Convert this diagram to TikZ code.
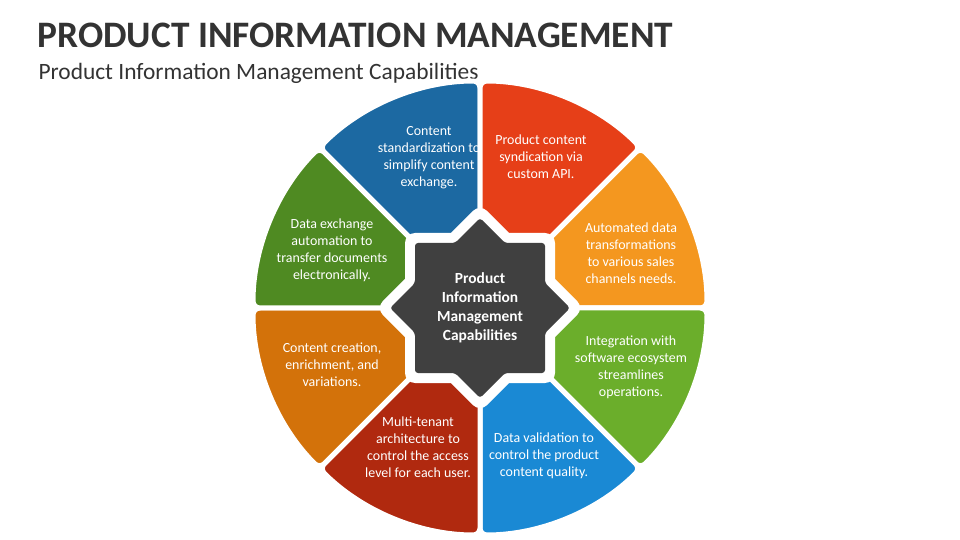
\documentclass[tikz,border=0pt]{standalone}
\usepackage{fontspec}
\setmainfont{Carlito}
\definecolor{cBlue}{HTML}{1C69A2}
\definecolor{cRed}{HTML}{E63F18}
\definecolor{cOrange}{HTML}{F4971F}
\definecolor{cGreenR}{HTML}{6BAE2B}
\definecolor{cLBlue}{HTML}{1A89D4}
\definecolor{cDRed}{HTML}{B0290F}
\definecolor{cDOrange}{HTML}{D3720A}
\definecolor{cGreenL}{HTML}{4F8A22}
\definecolor{cStar}{HTML}{404040}
\definecolor{cTitle}{HTML}{333333}
\begin{document}
\begin{tikzpicture}[x=1bp,y=-1bp,
  seg/.style={fill=#1,draw=white,line width=5bp,rounded corners=7bp},
  segtext/.style={text=white,align=center,font=\fontsize{14}{17}\selectfont},
  ]
\useasboundingbox (0,0) rectangle (960,540);
\fill[white] (0,0) rectangle (960,540);
\node[anchor=west,font=\fontsize{37.5}{42}\selectfont\bfseries,text=cTitle] (title) at (34,35) {PRODUCT INFORMATION MANAGEMENT};
\node[anchor=west,font=\fontsize{23.5}{28}\selectfont,text=cTitle] (sub) at (35,73) {Product Information Management Capabilities};
\begin{scope}[shift={(480,308)}]
  \foreach \a/\c in {-90/cBlue,-45/cRed,0/cOrange,45/cGreenR,90/cLBlue,135/cDRed,180/cDOrange,225/cGreenL}{
    \filldraw[seg=\c] (0,0) -- (\a-45:227) arc[start angle=\a-45,end angle=\a,radius=227] -- cycle;
  }
  \def\starpath{(0,-90) -- (25,-65) -- (65,-65) -- (65,-25) -- (90,0) -- (65,25) -- (65,65) -- (25,65) -- (0,90) -- (-25,65) -- (-65,65) -- (-65,25) -- (-90,0) -- (-65,-25) -- (-65,-65) -- (-25,-65) -- cycle}
  \draw[white,line width=20bp,line join=round] \starpath;
  \fill[cStar,rounded corners=3bp] \starpath;
  \node[text=white,align=center,font=\fontsize{15.5}{19}\selectfont\bfseries] (center) at (0,0) {Product\\Information\\Management\\Capabilities};
\end{scope}
\node[segtext] (t1) at (429,158) {Content\\standardization to\\simplify content\\exchange.};
\node[segtext] (t2) at (541,157) {Product content\\syndication via\\custom API.};
\node[segtext] (t3) at (631,253) {Automated data\\transformations\\to various sales\\channels needs.};
\node[segtext] (t4) at (631,367) {Integration with\\software ecosystem\\streamlines\\operations.};
\node[segtext] (t5) at (544,456) {Data validation to\\control the product\\content quality.};
\node[segtext] (t6) at (418,447) {Multi-tenant\\architecture to\\control the access\\level for each user.};
\node[segtext] (t7) at (332,365) {Content creation,\\enrichment, and\\variations.};
\node[segtext] (t8) at (332,250) {Data exchange\\automation to\\transfer documents\\electronically.};
\end{tikzpicture}
\end{document}
